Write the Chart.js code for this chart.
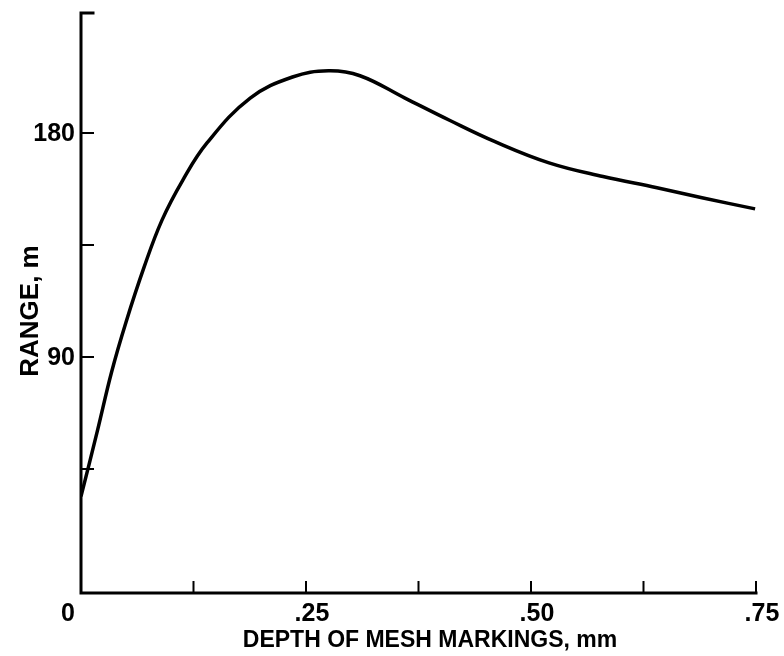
<!DOCTYPE html>
<html>
<head>
<meta charset="utf-8">
<script src="https://cdn.jsdelivr.net/npm/chart.js@4"></script>
<style>
  html, body { margin: 0; padding: 0; background: #fff; }
  #wrap { width: 784px; height: 656px; }
</style>
</head>
<body>
<div id="wrap"><canvas id="range"></canvas></div>
<script>
// range vs depth of mesh markings
var depth = [0, 0.018, 0.034, 0.05, 0.07, 0.09, 0.113, 0.14, 0.188, 0.235, 0.275, 0.31, 0.36, 0.41, 0.46, 0.52, 0.58, 0.64, 0.69, 0.749];
var range = [34, 60, 84, 104, 126, 145, 161, 176, 194, 202.5, 205, 203, 194, 185, 176.5, 168, 162.5, 158, 154, 149.5];

var xTicks = [0.125, 0.25, 0.375, 0.5, 0.625, 0.75];
var xLabelValues = [0, 0.25, 0.5, 0.75];
var xLabels = ['0', '.25', '.50', '.75'];
var yTicks = [45, 90, 135, 180];
var yLabelValues = [90, 180];
var yLabels = ['90', '180'];

var FAMILY = '"Liberation Sans", Arial, sans-serif';

// axes drawn by hand: inward ticks, labels hung off the scales
var axisPlugin = {
  id: 'axisPlugin',
  afterDraw: function(chart) {
    var ctx = chart.ctx;
    var xs = chart.scales.x, ys = chart.scales.y;
    var left = xs.getPixelForValue(0);
    var right = xs.getPixelForValue(0.75);
    var bottom = ys.getPixelForValue(ys.min);
    var top = ys.getPixelForValue(ys.max);
    ctx.save();
    ctx.strokeStyle = '#000';
    ctx.lineWidth = 3;
    ctx.lineCap = 'square';
    ctx.beginPath();
    ctx.moveTo(left + 12, top);
    ctx.lineTo(left, top);
    ctx.lineTo(left, bottom);
    ctx.lineTo(right, bottom);
    ctx.stroke();

    ctx.lineWidth = 2;
    ctx.lineCap = 'butt';
    ctx.beginPath();
    yTicks.forEach(function(v) {
      var py = ys.getPixelForValue(v);
      ctx.moveTo(left, py);
      ctx.lineTo(left + 13, py);
    });
    xTicks.forEach(function(v) {
      var px = xs.getPixelForValue(v);
      ctx.moveTo(px, bottom);
      ctx.lineTo(px, bottom - 12);
    });
    ctx.stroke();

    ctx.fillStyle = '#000';
    ctx.font = 'bold 25px ' + FAMILY;
    ctx.textAlign = 'right';
    ctx.textBaseline = 'middle';
    yLabelValues.forEach(function(v, i) {
      ctx.fillText(yLabels[i], left - 6, ys.getPixelForValue(v) + 1);
    });
    ctx.textAlign = 'center';
    xLabelValues.forEach(function(v, i) {
      var px = xs.getPixelForValue(v);
      var off = v === 0 ? -13 : 6;
      ctx.fillText(xLabels[i], px + off, bottom + 21);
    });

    ctx.font = 'bold 23px ' + FAMILY;
    ctx.fillText('DEPTH OF MESH MARKINGS, mm', 430, 641);
    ctx.font = 'bold 26px ' + FAMILY;
    ctx.translate(31, 311);
    ctx.rotate(-Math.PI / 2);
    ctx.fillText('RANGE, m', 0, 0);
    ctx.restore();
  }
};

new Chart(document.getElementById('range').getContext('2d'), {
  type: 'scatter',
  data: {
    datasets: [{
      data: depth.map(function(d, i) { return { x: d, y: range[i] }; }),
      showLine: true,
      borderColor: '#000',
      borderWidth: 3.5,
      pointRadius: 0,
      tension: 0.4,
      fill: false
    }]
  },
  options: {
    responsive: true,
    maintainAspectRatio: false,
    animation: false,
    layout: { padding: { left: 81, top: 13, right: 28, bottom: 63 } },
    plugins: { legend: { display: false }, tooltip: { enabled: false } },
    scales: {
      x: { type: 'linear', min: 0, max: 0.75, display: false },
      y: { type: 'linear', min: -4.8, max: 228.2, display: false }
    }
  },
  plugins: [axisPlugin]
});
</script>
</body>
</html>
